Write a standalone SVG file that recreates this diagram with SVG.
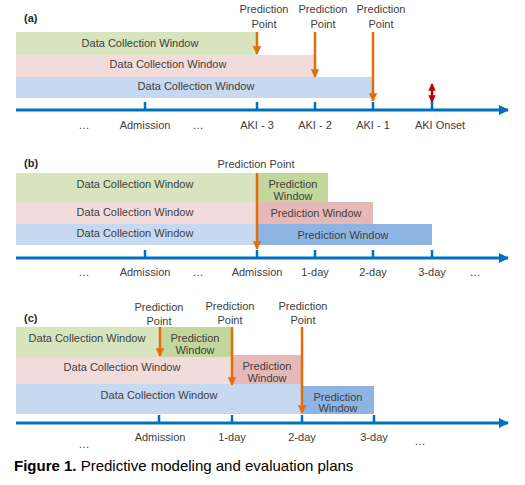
<svg xmlns="http://www.w3.org/2000/svg" width="525" height="485" viewBox="0 0 525 485">
<defs>
<marker id="oa" viewBox="0 0 10 10" refX="9" refY="5" markerWidth="3.6" markerHeight="3.4" orient="auto" markerUnits="strokeWidth"><path d="M0,0 L10,5 L0,10 z" fill="#E46C0A"/></marker>
<marker id="ba" viewBox="0 0 10 10" refX="9" refY="5" markerWidth="3.5" markerHeight="3.5" orient="auto" markerUnits="strokeWidth"><path d="M0,0 L10,5 L0,10 z" fill="#0070C0"/></marker>
<marker id="ra" viewBox="0 0 10 10" refX="9" refY="5" markerWidth="3" markerHeight="3.2" orient="auto-start-reverse" markerUnits="strokeWidth"><path d="M0,0 L10,5 L0,10 z" fill="#C00000"/></marker>
</defs>
<style>
text{font-family:"Liberation Sans",Arial,sans-serif;font-size:11px;fill:#404040;text-anchor:middle}
.lab{font-weight:bold;fill:#262626;text-anchor:start}
.g1{fill:#D7E4BD}.g2{fill:#C3D69B}.p1{fill:#F2DCDB}.p2{fill:#E6B9B8}.b1{fill:#C6D9F1}.b2{fill:#8EB4E3}
.axis{stroke:#0070C0;stroke-width:3;fill:none}
.tick{stroke:#0070C0;stroke-width:2.5}
.pp{stroke:#E46C0A;stroke-width:2.5;fill:none}
.cap{font-size:15px;fill:#000;text-anchor:start}
</style>
<rect width="525" height="485" fill="#fff"/>

<!-- Panel (a) -->
<g id="panel-a">
<text class="lab" x="24" y="22">(a)</text>
<g id="a-dcw1"><rect class="g1" x="16" y="32" width="241" height="23"/><text x="140" y="47">Data Collection Window</text></g>
<g id="a-dcw2"><rect class="p1" x="16" y="55" width="299" height="22"/><text x="168" y="68">Data Collection Window</text></g>
<g id="a-dcw3"><rect class="b1" x="16" y="77" width="357" height="21"/><text x="196" y="90">Data Collection Window</text></g>
<g id="a-axis">
<line class="axis" x1="16" y1="110" x2="508" y2="110" marker-end="url(#ba)"/>
<line class="tick" x1="145" y1="102" x2="145" y2="110"/>
<line class="tick" x1="257" y1="102" x2="257" y2="110"/>
<line class="tick" x1="315" y1="102" x2="315" y2="110"/>
<line class="tick" x1="373" y1="102" x2="373" y2="110"/>
<line class="tick" x1="432" y1="102" x2="432" y2="110"/>
<text x="84" y="129">…</text>
<text x="145" y="129">Admission</text>
<text x="198" y="129">…</text>
<text x="257" y="129">AKI - 3</text>
<text x="315" y="129">AKI - 2</text>
<text x="373" y="129">AKI - 1</text>
<text x="440" y="129">AKI  Onset</text>
</g>
<g id="a-pp1"><text x="264" y="13">Prediction</text><text x="264" y="28">Point</text></g>
<g id="a-pp2"><text x="323" y="13">Prediction</text><text x="323" y="28">Point</text></g>
<g id="a-pp3"><text x="381" y="13">Prediction</text><text x="381" y="28">Point</text></g>
</g>

<!-- Panel (b) -->
<g id="panel-b">
<text class="lab" x="24" y="167">(b)</text>
<g id="b-dcw1"><rect class="g1" x="16" y="173" width="241" height="29"/><text x="135" y="188">Data Collection Window</text></g>
<g id="b-pw1"><rect class="g2" x="257" y="173" width="71" height="29"/><text x="293" y="188">Prediction</text><text x="293" y="200">Window</text></g>
<g id="b-dcw2"><rect class="p1" x="16" y="202" width="241" height="22"/><text x="135" y="216">Data Collection Window</text></g>
<g id="b-pw2"><rect class="p2" x="257" y="202" width="116" height="22"/><text x="316" y="217">Prediction Window</text></g>
<g id="b-dcw3"><rect class="b1" x="16" y="224" width="241" height="21"/><text x="135" y="237">Data Collection Window</text></g>
<g id="b-pw3"><rect class="b2" x="257" y="224" width="175" height="21"/><text x="343" y="239">Prediction Window</text></g>
<g id="b-axis">
<line class="axis" x1="16" y1="258" x2="508" y2="258" marker-end="url(#ba)"/>
<line class="tick" x1="145" y1="250" x2="145" y2="258"/>
<line class="tick" x1="257" y1="250" x2="257" y2="258"/>
<line class="tick" x1="315" y1="250" x2="315" y2="258"/>
<line class="tick" x1="373" y1="250" x2="373" y2="258"/>
<line class="tick" x1="432" y1="250" x2="432" y2="258"/>
<text x="84" y="276">…</text>
<text x="145" y="276">Admission</text>
<text x="198" y="276">…</text>
<text x="257" y="276">Admission</text>
<text x="315" y="276">1-day</text>
<text x="373" y="276">2-day</text>
<text x="432" y="276">3-day</text>
<text x="475" y="276">…</text>
</g>
<g id="b-pp"><text x="256" y="168">Prediction Point</text></g>
</g>

<!-- Panel (c) -->
<g id="panel-c">
<text class="lab" x="24" y="322">(c)</text>
<g id="c-dcw1"><rect class="g1" x="16" y="327" width="144" height="30"/><text x="87" y="342">Data Collection Window</text></g>
<g id="c-pw1"><rect class="g2" x="160" y="327" width="72" height="30"/><text x="195" y="342">Prediction</text><text x="195" y="354">Window</text></g>
<g id="c-dcw2"><rect class="p1" x="16" y="357" width="216" height="27"/><text x="122" y="371">Data Collection Window</text></g>
<g id="c-pw2"><rect class="p2" x="232" y="355" width="70" height="29"/><text x="267" y="370">Prediction</text><text x="267" y="382">Window</text></g>
<g id="c-dcw3"><rect class="b1" x="16" y="384" width="286" height="30"/><text x="159" y="399">Data Collection Window</text></g>
<g id="c-pw3"><rect class="b2" x="302" y="386" width="72" height="28"/><text x="338" y="401">Prediction</text><text x="338" y="412">Window</text></g>
<g id="c-axis">
<line class="axis" x1="16" y1="423" x2="508" y2="423" marker-end="url(#ba)"/>
<line class="tick" x1="159" y1="415" x2="159" y2="423"/>
<line class="tick" x1="232" y1="415" x2="232" y2="423"/>
<line class="tick" x1="302" y1="415" x2="302" y2="423"/>
<line class="tick" x1="374" y1="415" x2="374" y2="423"/>
<text x="160" y="441">Admission</text>
<text x="232" y="441">1-day</text>
<text x="302" y="441">2-day</text>
<text x="374" y="441">3-day</text>
<text x="84" y="448">…</text>
<text x="420" y="445">…</text>
</g>
<g id="c-pp1"><text x="159" y="311">Prediction</text><text x="159" y="325">Point</text></g>
<g id="c-pp2"><text x="230" y="310">Prediction</text><text x="230" y="324">Point</text></g>
<g id="c-pp3"><text x="303" y="310">Prediction</text><text x="303" y="324">Point</text></g>
</g>

<!-- connectors -->
<g id="connectors">
<line class="pp" x1="257" y1="32" x2="257" y2="54" marker-end="url(#oa)"/>
<line class="pp" x1="315" y1="32" x2="315" y2="77" marker-end="url(#oa)"/>
<line class="pp" x1="373" y1="32" x2="373" y2="101" marker-end="url(#oa)"/>
<line x1="432" y1="84" x2="432" y2="102" stroke="#C00000" stroke-width="2.5" marker-start="url(#ra)" marker-end="url(#ra)"/>
<line class="pp" x1="257" y1="173" x2="257" y2="249" marker-end="url(#oa)"/>
<line class="pp" x1="160" y1="327" x2="160" y2="356" marker-end="url(#oa)"/>
<line class="pp" x1="232" y1="327" x2="232" y2="385" marker-end="url(#oa)"/>
<line class="pp" x1="302" y1="327" x2="302" y2="413" marker-end="url(#oa)"/>
</g>

<text class="cap" x="14" y="471"><tspan font-weight="bold">Figure 1.</tspan> Predictive modeling and evaluation plans</text>
</svg>
